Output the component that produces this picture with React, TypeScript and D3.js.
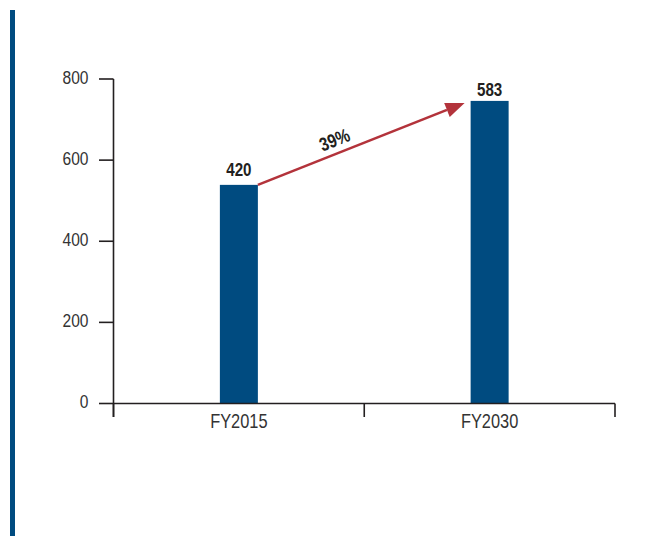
import React from "react";
import * as d3 from "d3";

const categories = ["FY2015", "FY2030"];
const barValues = [539, 746];
const barLabels = ["420", "583"];
const growthLabel = "39%";
const yTicks = [0, 200, 400, 600, 800];

const W = 647;
const H = 536;
const BLUE = "#004b80";
const RED = "#b3333b";
const INK = "#231f20";
const FONT = "'Liberation Sans', Arial, sans-serif";
const NARROW = 0.82;

function Txt(props: {
  x: number;
  y: number;
  rotate?: number;
  anchor?: "start" | "middle" | "end";
  size: number;
  bold?: boolean;
  fill?: string;
  dy?: string;
  children: React.ReactNode;
}) {
  const { x, y, rotate = 0, anchor = "middle", size, bold, fill = INK, dy, children } = props;
  return (
    <g transform={`translate(${x},${y}) rotate(${rotate}) scale(${NARROW},1)`}>
      <text
        x={0}
        y={0}
        dy={dy}
        textAnchor={anchor}
        fontSize={size}
        fontWeight={bold ? "bold" : "normal"}
        fill={fill}
      >
        {children}
      </text>
    </g>
  );
}

export default function App() {
  const x = d3.scaleBand<string>().domain(categories).range([113.5, 615]).paddingInner(0).paddingOuter(0);
  const y = d3.scaleLinear().domain([0, 800]).range([403.5, 79]);
  const barW = 38;
  const cx = (c: string) => (x(c) as number) + x.bandwidth() / 2;

  const x1 = cx(categories[0]) + barW / 2;
  const y1 = y(barValues[0]);
  const x2 = cx(categories[1]) - barW / 2 - 6;
  const y2 = y(barValues[1]) + 2;
  const ang = Math.atan2(y2 - y1, x2 - x1);
  const headLen = 19;
  const headHalf = 7.5;
  const bx = x2 - headLen * Math.cos(ang);
  const by = y2 - headLen * Math.sin(ang);
  const px = -Math.sin(ang);
  const py = Math.cos(ang);
  const head = [
    [x2, y2],
    [bx + px * headHalf, by + py * headHalf],
    [bx - px * headHalf, by - py * headHalf],
  ];
  const midT = 0.395;
  const mx = x1 + (x2 - x1) * midT;
  const my = y1 + (y2 - y1) * midT;
  const off = 7;
  const tx = mx + Math.sin(ang) * off;
  const ty = my - Math.cos(ang) * off;

  const axisBottom = 417;

  return (
    <svg
      width={W}
      height={H}
      style={{ position: "absolute", left: 0, top: 0, background: "#fff" }}
      fontFamily={FONT}
    >
      <rect x={10} y={10} width={5} height={H - 10} fill={BLUE} />

      {categories.map((c, i) => (
        <rect
          key={c}
          x={cx(c) - barW / 2}
          y={y(barValues[i])}
          width={barW}
          height={y(0) - y(barValues[i])}
          fill={BLUE}
        />
      ))}

      <line x1={113.5} x2={113.5} y1={y(800)} y2={axisBottom} stroke={INK} strokeWidth={1.6} />
      {yTicks.map((t) => (
        <g key={t}>
          <line x1={99} x2={113.5} y1={y(t)} y2={y(t)} stroke={INK} strokeWidth={1.6} />
          <Txt x={88.5} y={y(t)} dy="0.26em" anchor="end" size={19} fill="#333">
            {t}
          </Txt>
        </g>
      ))}

      <line x1={113.5} x2={615} y1={y(0)} y2={y(0)} stroke={INK} strokeWidth={1.6} />
      {[...categories.map((c) => x(c) as number), 615].map((v, i) => (
        <line key={i} x1={v} x2={v} y1={y(0)} y2={axisBottom} stroke={INK} strokeWidth={1.6} />
      ))}
      {categories.map((c) => (
        <Txt key={c} x={cx(c)} y={427.5} size={20} fill="#333">
          {c}
        </Txt>
      ))}

      {categories.map((c, i) => (
        <Txt
          key={c}
          x={cx(c)}
          y={i === 0 ? y(barValues[i]) - 9 : y(barValues[i]) - 5}
          size={18.5}
          bold
        >
          {barLabels[i]}
        </Txt>
      ))}

      <line x1={x1} y1={y1} x2={bx} y2={by} stroke={RED} strokeWidth={2.6} />
      <polygon points={head.map((p) => p.join(",")).join(" ")} fill={RED} />
      <Txt x={tx} y={ty} rotate={(ang * 180) / Math.PI} size={19} bold>
        {growthLabel}
      </Txt>
    </svg>
  );
}
